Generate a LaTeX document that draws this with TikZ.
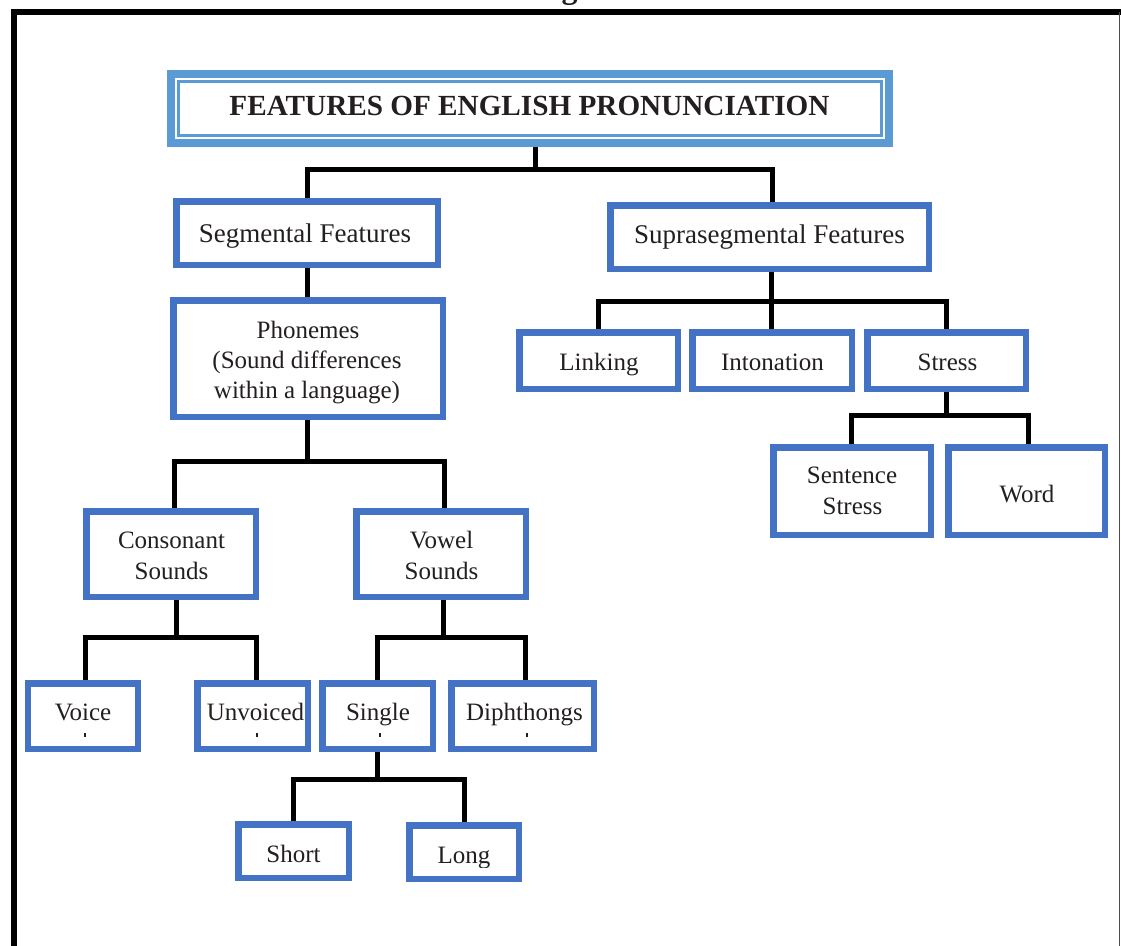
\documentclass[tikz,border=0pt]{standalone}
\usepackage{fontspec}
\setmainfont{Liberation Serif}
\usetikzlibrary{backgrounds}
\definecolor{boxblue}{HTML}{4472C4}
\definecolor{titleblue}{HTML}{5B9BD5}
\definecolor{txt}{HTML}{231F20}
\newcommand\mybx[5]{%
  \pgfmathsetmacro\mybxw{#3-#2-6.5}%
  \pgfmathsetmacro\mybxh{#5-#4-6.5}%
  \pgfmathsetmacro\mybxcx{(#2+#3)/2}%
  \pgfmathsetmacro\mybxcy{(#4+#5)/2}%
  \node[box,minimum width=\mybxw pt,minimum height=\mybxh pt] (#1) at (\mybxcx,\mybxcy) {};}
\begin{document}
\begin{tikzpicture}[x=1pt,y=-1pt,
  box/.style={draw=boxblue,line width=6.5pt,fill=white,inner sep=0pt,rectangle},
  conn/.style={draw=black,line width=5pt,line join=miter},
  lbl/.style={inner sep=0pt,anchor=base,text=txt,font=\fontsize{25}{30}\selectfont},
  lblbig/.style={inner sep=0pt,anchor=base,text=txt,font=\fontsize{27}{32}\selectfont},
  dotmark/.style={fill=txt}]
\useasboundingbox (0,0) rectangle (1121,945);
\begin{scope}
\clip (0,0) rectangle (1121,945);
% heading above the frame, cut off by the page edge as in the reference
\node[inner sep=0pt,anchor=base,text=txt,font=\bfseries\fontsize{32}{36}\selectfont] (toptitle) at (595,-1.5) {Features of English Pronunciation};
% frame
\draw[line width=6pt,line join=miter] (1130,12) -- (13.5,12) -- (13.5,960);
\draw[line width=1.5pt,draw=black!70] (1119.5,12) -- (1119.5,960);
\end{scope}

% title box
\node[draw=titleblue,line width=8pt,fill=white,minimum width=718pt,minimum height=69.5pt,inner sep=0pt] (title) at (530,108.5) {};
\node[draw=titleblue,line width=2.2pt,minimum width=703pt,minimum height=54pt,inner sep=0pt] (titlein) at (530,108.5) {};
\node[inner sep=0pt,anchor=base,text=txt,font=\bfseries\fontsize{29.2}{34}\selectfont] (titlet) at (529.5,115) {FEATURES OF ENGLISH PRONUNCIATION};

% boxes
\mybx{seg}{173}{441}{198}{268}
\mybx{supra}{607}{932}{202}{272}
\mybx{phon}{170}{446}{297}{420}
\mybx{cons}{83}{259}{508}{600}
\mybx{vowel}{353}{529}{508}{600}
\mybx{voice}{24.5}{141}{680}{752}
\mybx{unv}{194}{311}{680}{752}
\mybx{single}{319}{436}{680}{752}
\mybx{diph}{448}{597}{680}{752}
\mybx{short}{235}{352}{821}{881}
\mybx{long}{406}{522}{822}{882}
\mybx{link}{516}{681}{329}{392}
\mybx{inton}{689}{855}{329}{392}
\mybx{stress}{864}{1029}{329}{392}
\mybx{sent}{770}{934}{444}{538}
\mybx{word}{945}{1108}{444}{538}

% labels
\node[lblbig] (segt) at (305,242) {Segmental Features};
\node[lblbig] (suprat) at (769.5,243) {Suprasegmental Features};
\node[lbl] (phont1) at (308,338) {Phonemes};
\node[lbl] (phont2) at (307,368) {(Sound differences};
\node[lbl] (phont3) at (307,398) {within a language)};
\node[lbl] (const1) at (171.5,548) {Consonant};
\node[lbl] (const2) at (171.5,579) {Sounds};
\node[lbl] (vowelt1) at (441.5,548) {Vowel};
\node[lbl] (vowelt2) at (441.5,579) {Sounds};
\node[lbl] (voicet) at (83,720) {Voice};
\node[lbl] (unvt) at (255.5,720) {Unvoiced};
\node[lbl] (singlet) at (378,720) {Single};
\node[lbl] (dipht) at (524.5,720) {Diphthongs};
\node[lbl] (shortt) at (293.5,862) {Short};
\begin{scope}
\clip (406,822) rectangle (522,867);
\node[lbl] (longt) at (464,863) {Long};
\end{scope}
\node[lbl] (linkt) at (599,370) {Linking};
\node[lbl] (intont) at (772.5,370) {Intonation};
\node[lbl] (stresst) at (947.5,370) {Stress};
\node[lbl] (sentt1) at (852,483) {Sentence};
\node[lbl] (sentt2) at (852.5,514) {Stress};
\node[lbl] (wordt) at (1027,502) {Word};

% clipped second-line marks
\fill[dotmark] (84.2,733) rectangle (85.8,737);
\fill[dotmark] (256.2,733) rectangle (257.8,737);
\fill[dotmark] (379.2,733) rectangle (380.8,737);
\fill[dotmark] (526.2,733) rectangle (527.8,737);

% connectors
\coordinate (j1) at (535,169.5);
\coordinate (j2) at (307,461);
\coordinate (j3) at (176,637);
\coordinate (j4) at (443,637);
\coordinate (j5) at (377,779);
\coordinate (j6) at (771,301);
\coordinate (j7) at (946.5,415);
\begin{pgfonlayer}{background}
\draw[conn] (j1 |- title.south) -- (j1);
\draw[conn] (seg.north) |- (j1) -| ([xshift=2.5]supra.north);
\draw[conn] (seg.south) -- (seg.south |- phon.north);
\draw[conn] (phon.south -| j2) -- (j2);
\draw[conn] ([xshift=3]cons.north) |- (j2) -| ([xshift=3]vowel.north);
\draw[conn] (cons.south -| j3) -- (j3);
\draw[conn] ([xshift=3]voice.north) |- (j3) -| ([xshift=3.5]unv.north);
\draw[conn] (vowel.south -| j4) -- (j4);
\draw[conn] (single.north -| j5) |- (j4) -| ([xshift=2.5]diph.north);
\draw[conn] (single.south -| j5) -- (j5);
\draw[conn] (short.north) |- (j5) -| (long.north);
\draw[conn] (supra.south -| j6) -- (j6);
\draw[conn] (link.north) |- (j6) -| (stress.north);
\draw[conn] (inton.north -| j6) -- (j6);
\draw[conn] (stress.south -| j7) -- (j7);
\draw[conn] ([xshift=-1]sent.north) |- (j7) -| ([xshift=1.5]word.north);
\end{pgfonlayer}
\end{tikzpicture}
\end{document}
